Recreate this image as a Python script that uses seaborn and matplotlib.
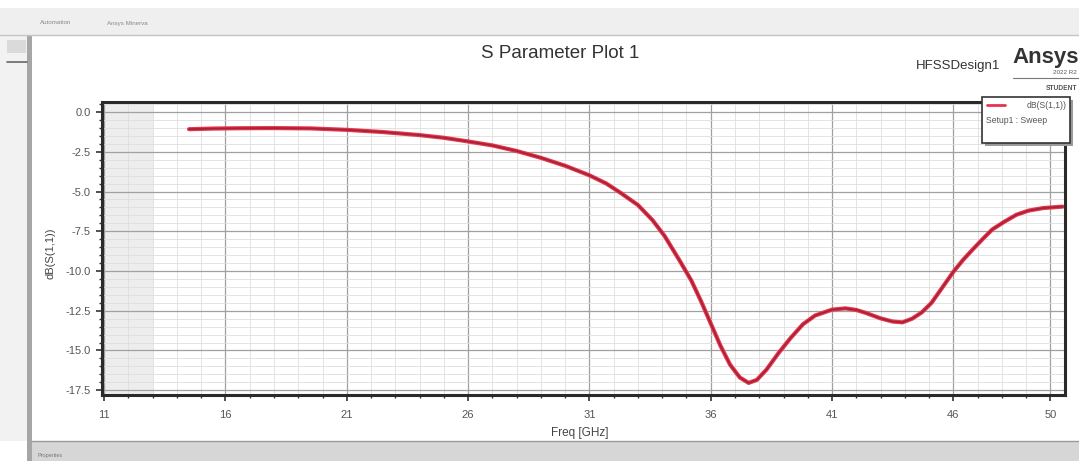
import numpy as np
import pandas as pd
import matplotlib
matplotlib.use('Agg')
import matplotlib.pyplot as plt
import matplotlib.patheffects as pe
from matplotlib.patches import Rectangle
from matplotlib.lines import Line2D
from matplotlib.ticker import MultipleLocator
import seaborn as sns

# --- data ---
freq_ghz = [14.5, 15.5, 16.5, 18.0, 19.5, 21.0, 22.5, 24.0, 25.0, 26.0,
            27.0, 28.0, 29.0, 30.0, 31.0, 31.7, 32.3, 33.0, 33.6, 34.1,
            34.7, 35.2, 35.6, 36.0, 36.4, 36.8, 37.2, 37.56, 37.9, 38.3,
            38.8, 39.3, 39.8, 40.3, 41.0, 41.55, 42.0, 42.4, 43.0, 43.5,
            43.9, 44.3, 44.7, 45.1, 45.4, 45.7, 46.0, 46.4, 46.8, 47.2,
            47.6, 48.1, 48.6, 49.1, 49.7, 50.5]
s11_db = [-1.08, -1.04, -1.02, -1.01, -1.03, -1.12, -1.26, -1.45, -1.62, -1.85,
          -2.10, -2.45, -2.88, -3.38, -3.98, -4.50, -5.10, -5.85, -6.80, -7.80,
          -9.30, -10.6, -11.9, -13.3, -14.7, -15.9, -16.7, -17.04, -16.85, -16.2,
          -15.15, -14.2, -13.35, -12.8, -12.43, -12.35, -12.45, -12.64, -12.98, -13.18,
          -13.23, -13.0, -12.6, -12.0, -11.35, -10.7, -10.05, -9.3, -8.64, -8.0,
          -7.39, -6.9, -6.46, -6.2, -6.04, -5.95]
x_ticks = [11, 16, 21, 26, 31, 36, 41, 46, 50]
y_ticks = [0.0, -2.5, -5.0, -7.5, -10.0, -12.5, -15.0, -17.5]

df = pd.DataFrame({'Freq': freq_ghz, 'S11': s11_db})

sns.set_style('white')
plt.rcParams['font.family'] = ['Liberation Sans', 'DejaVu Sans']

W, H = 1079, 461
fig = plt.figure(figsize=(W / 100, H / 100), dpi=100)


def fx(x):
    return x / W


def fy(y):
    return 1 - y / H


def box(x0, y0, x1, y1, **kw):
    fig.add_artist(Rectangle((fx(x0), fy(y1)), fx(x1) - fx(x0), fy(y0) - fy(y1),
                             transform=fig.transFigure, **kw))


# --- window chrome around the plot ---
box(0, 8, W, 35, color='#efefef', lw=0)
fig.add_artist(Line2D([0, 1], [fy(35), fy(35)], color='#c4c4c4', lw=1))
fig.text(fx(40), fy(23), 'Automation', fontsize=4.5, color='#888', va='center')
fig.text(fx(107), fy(23), 'Ansys Minerva', fontsize=4.5, color='#888', va='center')
box(0, 35, 28, 441, color='#f2f2f2', lw=0)
box(7, 40, 26, 53, color='#dadada', lw=0)
fig.add_artist(Line2D([fx(7), fx(27)], [fy(62), fy(62)], color='#666', lw=1.2))
box(27, 35, 32, 461, color='#a6a6a6', lw=0)
box(32, 441, W, H, color='#d6d6d6', lw=0)
fig.add_artist(Line2D([fx(32), 1], [fy(441), fy(441)], color='#9a9a9a', lw=1))
fig.text(fx(38), fy(455), 'Properties', fontsize=4, color='#777', va='center')

# --- main axes ---
ax = fig.add_axes([fx(101.7), fy(395), fx(1065) - fx(101.7), fy(101.7) - fy(395)])
ax.set_xlim(10.9, 50.6)
ax.set_ylim(-17.8, 0.65)
ax.axvspan(10.9, 13.0, color='#ededed', lw=0, zorder=0.2)

ax.set_axisbelow(True)
ax.xaxis.set_minor_locator(MultipleLocator(1))
ax.yaxis.set_minor_locator(MultipleLocator(0.5))
ax.grid(which='major', color='#a0a0a0', lw=0.9)
ax.grid(which='minor', color='#dedede', lw=0.6)

sns.lineplot(data=df, x='Freq', y='S11', ax=ax, sort=False, estimator=None,
             color='#a82236', lw=1.3, solid_joinstyle='round', solid_capstyle='round',
             path_effects=[pe.Stroke(linewidth=3.0, foreground='#e8364f'), pe.Normal()])

ax.set_xticks(x_ticks)
ax.set_yticks(y_ticks)
ax.set_xticklabels([str(t) for t in x_ticks])
ax.set_yticklabels([f'{t:.1f}' for t in y_ticks])
ax.tick_params(axis='y', which='major', direction='out', length=4, width=1.1,
               color='#222', labelsize=8, labelcolor='#555', left=True, pad=4)
ax.tick_params(axis='x', which='major', direction='out', length=4, width=1.1,
               color='#222', labelsize=8, labelcolor='#555', bottom=True, pad=7)
ax.tick_params(which='minor', direction='out', length=2.5, width=1.0, color='#333',
               bottom=True, left=True)
for s in ax.spines.values():
    s.set_linewidth(2.2)
    s.set_color('#2a2a2a')

ax.set_xlabel('')
ax.set_ylabel('')
fig.text(fx(580), fy(433), 'Freq [GHz]', fontsize=8.5, color='#444', ha='center', va='center')
fig.text(fx(50), fy(253), 'dB(S(1,1))', fontsize=8, color='#444', rotation=90,
         ha='center', va='center')

# --- titles and branding ---
fig.text(fx(560), fy(53), 'S Parameter Plot 1', fontsize=13.5, color='#333',
         ha='center', va='center')
fig.text(fx(1000), fy(66), 'HFSSDesign1', fontsize=9.5, color='#333', ha='right', va='center')
fig.text(fx(1012), fy(58), 'Ansys', fontsize=16, fontweight='bold', color='#333',
         ha='left', va='center')
fig.text(fx(1077), fy(72), '2022 R2', fontsize=4.5, color='#555', ha='right', va='center')
fig.add_artist(Line2D([fx(1013), fx(1079)], [fy(78), fy(78)], color='#777', lw=0.8))
fig.text(fx(1077), fy(88), 'STUDENT', fontsize=4.8, fontweight='bold', color='#555',
         ha='right', va='center')

# --- legend box ---
box(985, 100, 1073, 146, color='#9a9a9a', lw=0, zorder=5)
box(981.7, 96.7, 1070, 142.7, facecolor='white', edgecolor='#333', lw=1.2, zorder=6)
fig.add_artist(Line2D([fx(987), fx(1005)], [fy(105), fy(105)], color='#e8334a', lw=2,
                      zorder=7))
fig.text(fx(1067), fy(105), 'dB(S(1,1))', fontsize=6.2, color='#555', ha='right',
         va='center', zorder=7)
fig.text(fx(986), fy(120), 'Setup1 : Sweep', fontsize=6.2, color='#555', ha='left',
         va='center', zorder=7)

fig.savefig('out.png', dpi=100)
